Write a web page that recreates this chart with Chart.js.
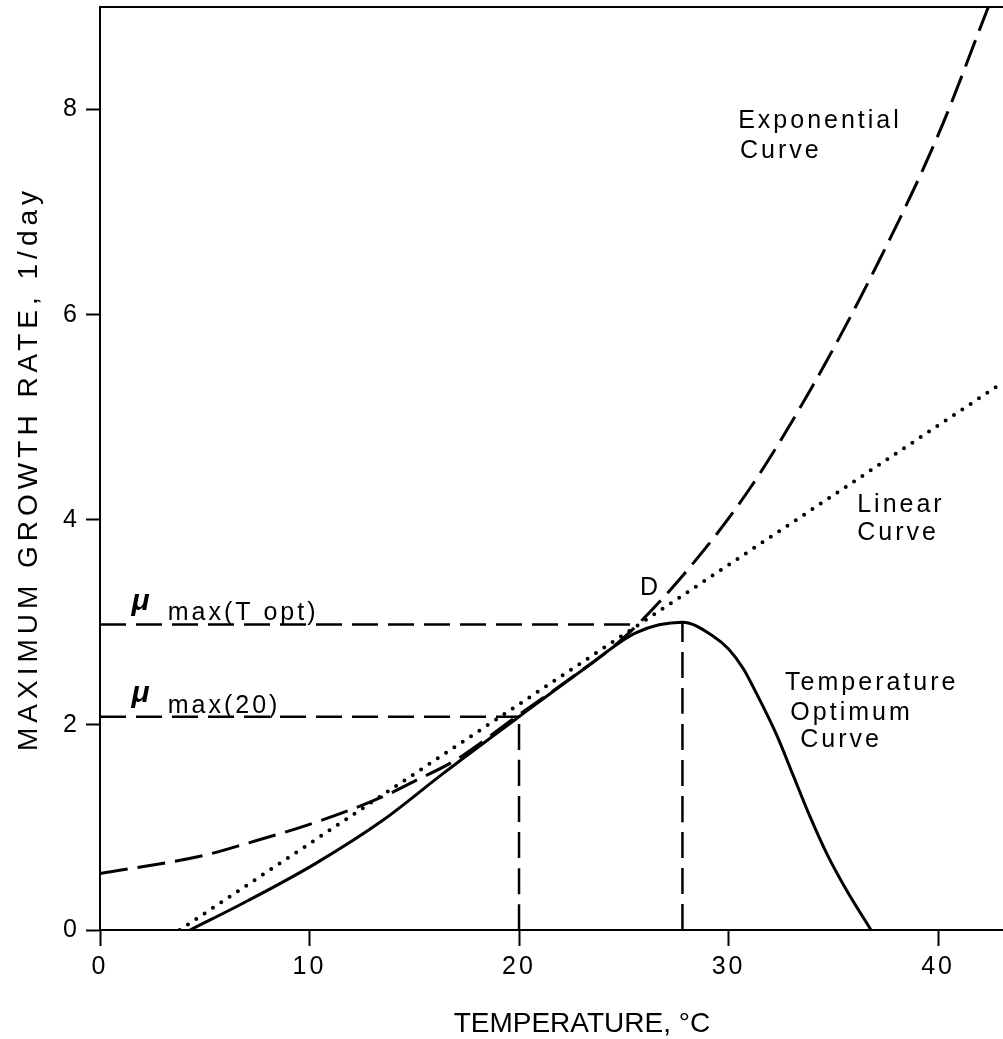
<!DOCTYPE html>
<html>
<head>
<meta charset="utf-8">
<script src="https://cdn.jsdelivr.net/npm/chart.js@4.4.1/dist/chart.umd.min.js"></script>
<style>
  html, body { margin: 0; padding: 0; background: #fff; overflow: hidden; }
  #wrap { width: 1003px; height: 1039px; position: relative; }
</style>
</head>
<body>
<div id="wrap"><canvas id="growth"></canvas></div>
<script>
// values (temperature in °C, rate in 1/day)
const xTicks = [0, 10, 20, 30, 40];
const yTicks = [0, 2, 4, 6, 8];

const expT = [0, 5, 7.1, 10, 13.5, 15, 17, 20, 22.5, 25, 28, 31, 34, 37, 40, 42.4];
const expRate = [0.55, 0.73, 0.85, 1.03, 1.30, 1.45, 1.66, 2.1, 2.46, 2.85, 3.5, 4.3, 5.3, 6.45, 7.75, 9.0];

const linT = [3.8, 43.1];
const linRate = [0, 5.34];

const optT = [4.3, 7.1, 10.3, 13.5, 16.4, 20, 23.2, 25.6, 27.8, 29.3, 30.0, 30.7, 31.3, 32.3, 33.1, 33.9, 34.7, 35.6, 36.8];
const optRate = [0, 0.29, 0.65, 1.07, 1.53, 2.08, 2.56, 2.9, 3.0, 2.86, 2.74, 2.55, 2.32, 1.90, 1.50, 1.10, 0.74, 0.40, 0];

// guide lines for mu max(T opt) and mu max(20)
const toptT = [0, 25.45];
const toptRate = [2.98, 2.98];
const mu20T = [0, 20];
const mu20Rate = [2.08, 2.08];
const v20T = [20, 20];
const v20Rate = [0, 2.08];
const vToptT = [27.8, 27.8];
const vToptRate = [0, 3.0];

const xMax = 43.1;
const yMax = 9.0;

// labels written on the plot, anchored at (temperature, rate)
const notes = [
  { text: 'Exponential', x: 30.46, y: 7.82 },
  { text: 'Curve', x: 30.55, y: 7.53 },
  { text: 'Linear', x: 36.14, y: 4.08 },
  { text: 'Curve', x: 36.14, y: 3.80 },
  { text: 'D', x: 25.78, y: 3.27 },
  { text: 'Temperature', x: 32.7, y: 2.34 },
  { text: 'Optimum', x: 32.95, y: 2.05 },
  { text: 'Curve', x: 33.42, y: 1.785 },
  { text: 'max(T opt)', x: 3.23, y: 3.02 },
  { text: 'max(20)', x: 3.23, y: 2.12 },
  { text: 'μ', x: 1.5, y: 3.12, mu: true },
  { text: 'μ', x: 1.5, y: 2.22, mu: true }
];

const FONT = '"Liberation Sans", Arial, Helvetica, sans-serif';
Chart.defaults.font.family = FONT;
Chart.defaults.color = '#000';

const pts = (xs, ys) => xs.map((x, i) => ({ x: x, y: ys[i] }));

function lineSet(label, xs, ys, extra) {
  return Object.assign({
    label: label,
    data: pts(xs, ys),
    borderColor: '#000',
    borderWidth: 3,
    pointRadius: 0,
    fill: false,
    cubicInterpolationMode: 'monotone'
  }, extra);
}

// no extra room for end labels, keep the plot frame where the figure has it
function noPad(scale) {
  scale.paddingTop = 0;
  scale.paddingBottom = 0;
  scale.paddingLeft = 0;
  scale.paddingRight = 0;
}

const figText = {
  id: 'figText',
  beforeDraw(chart) {
    chart.ctx.letterSpacing = '3px';
  },
  afterDraw(chart) {
    const { ctx, scales: { x, y } } = chart;
    ctx.save();
    ctx.fillStyle = '#000';
    ctx.textBaseline = 'alphabetic';
    ctx.textAlign = 'left';
    notes.forEach(n => {
      ctx.font = n.mu ? 'italic bold 30px ' + FONT : '25px ' + FONT;
      ctx.letterSpacing = n.mu ? '0px' : '3px';
      ctx.fillText(n.text, x.getPixelForValue(n.x), y.getPixelForValue(n.y));
    });

    // axis titles
    ctx.font = '28px ' + FONT;
    ctx.letterSpacing = '0px';
    ctx.textAlign = 'center';
    ctx.fillText('TEMPERATURE, °C', x.getPixelForValue(23), chart.height - 7);

    ctx.translate(37, y.getPixelForValue(4.5));
    ctx.rotate(-Math.PI / 2);
    ctx.letterSpacing = '5px';
    ctx.fillText('MAXIMUM GROWTH RATE, 1/day', 0, 0);
    ctx.restore();
    ctx.letterSpacing = '0px';
  }
};

new Chart(document.getElementById('growth'), {
  type: 'line',
  data: {
    datasets: [
      lineSet('Exponential Curve', expT, expRate, { borderDash: [28, 10] }),
      lineSet('Linear Curve', linT, linRate, { borderDash: [0, 10], borderCapStyle: 'round', borderWidth: 4 }),
      lineSet('Temperature Optimum Curve', optT, optRate, {}),
      lineSet('mu max(T opt)', toptT, toptRate, { borderDash: [26, 10], borderWidth: 2.5 }),
      lineSet('mu max(20)', mu20T, mu20Rate, { borderDash: [26, 10], borderWidth: 2.5 }),
      lineSet('T = 20', v20T, v20Rate, { borderDash: [26, 10], borderWidth: 2.5 }),
      lineSet('T opt', vToptT, vToptRate, { borderDash: [26, 10], borderWidth: 2.5 })
    ]
  },
  options: {
    responsive: true,
    maintainAspectRatio: false,
    animation: false,
    layout: { padding: { top: 7, right: 0, bottom: 0, left: 0 } },
    plugins: {
      legend: { display: false },
      tooltip: { enabled: false }
    },
    scales: {
      x: {
        type: 'linear',
        position: 'bottom',
        min: 0,
        max: xMax,
        afterBuildTicks: (scale) => { scale.ticks = xTicks.map(v => ({ value: v })); },
        afterFit: (scale) => { scale.height = 109; noPad(scale); },
        border: { display: true, color: '#000', width: 2 },
        grid: { drawOnChartArea: false, drawTicks: true, tickLength: 16, tickColor: '#000', tickWidth: 2 },
        ticks: { font: { size: 25 }, padding: 6, maxRotation: 0, callback: (v) => String(v) }
      },
      xTop: {
        type: 'linear',
        position: 'top',
        min: 0,
        max: xMax,
        afterFit: (scale) => { scale.height = 0; noPad(scale); },
        border: { display: true, color: '#000', width: 2 },
        grid: { display: false },
        ticks: { display: false }
      },
      y: {
        type: 'linear',
        position: 'left',
        min: 0,
        max: yMax,
        afterBuildTicks: (scale) => { scale.ticks = yTicks.map(v => ({ value: v })); },
        afterFit: (scale) => { scale.width = 100; noPad(scale); },
        border: { display: true, color: '#000', width: 2 },
        grid: { drawOnChartArea: false, drawTicks: true, tickLength: 14, tickColor: '#000', tickWidth: 2 },
        ticks: { font: { size: 25 }, padding: 6, callback: (v) => String(v) }
      }
    }
  },
  plugins: [figText]
});
</script>
</body>
</html>
